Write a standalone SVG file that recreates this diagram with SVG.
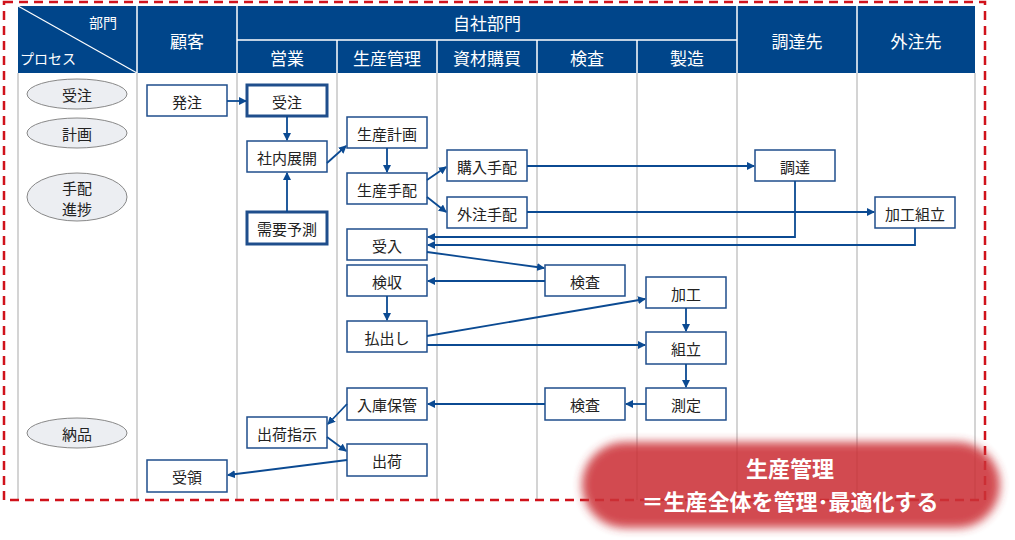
<svg xmlns="http://www.w3.org/2000/svg" width="1015" height="540" viewBox="0 0 1015 540">
<style>
text{font-family:"Noto Sans CJK JP","Noto Sans",sans-serif;text-anchor:middle;dominant-baseline:central}
.h{fill:#fff;font-size:17px}
.b rect{fill:#fff;stroke:#1f4e8c;stroke-width:1.5}
.b.t rect{stroke-width:3}
.b text{font-size:15px;fill:#222}
.e ellipse{fill:#eceef2;stroke:#888;stroke-width:1}
.e text{font-size:15px;fill:#222}
.g{stroke:#b8b8b8;stroke-width:1.2}
#conn path{fill:none;stroke:#0b4a92;stroke-width:1.8;marker-end:url(#ar)}
</style>
<defs>
<marker id="ar" markerWidth="8" markerHeight="8" refX="7" refY="4" orient="auto" markerUnits="userSpaceOnUse"><path d="M0,0L8,4L0,8z" fill="#0b4a92"/></marker>
<filter id="bl" x="-10%" y="-30%" width="120%" height="160%"><feGaussianBlur stdDeviation="5"/></filter>
</defs>
<rect width="1015" height="540" fill="#fff"/>
<g id="grid">
<rect x="18" y="6" width="957" height="67" fill="#00458a"/>
<line x1="18" y1="6" x2="137" y2="73" stroke="#fff" stroke-width="1.2"/>
<g stroke="#fff" stroke-width="1.5"><line x1="137" y1="6" x2="137" y2="73"/><line x1="237" y1="6" x2="237" y2="73"/><line x1="737" y1="6" x2="737" y2="73"/><line x1="857" y1="6" x2="857" y2="73"/><line x1="237" y1="40" x2="737" y2="40"/><line x1="337" y1="40" x2="337" y2="73"/><line x1="437" y1="40" x2="437" y2="73"/><line x1="537" y1="40" x2="537" y2="73"/><line x1="637" y1="40" x2="637" y2="73"/></g>
<g class="g"><line x1="18" y1="73" x2="18" y2="500"/><line x1="137" y1="73" x2="137" y2="500"/><line x1="237" y1="73" x2="237" y2="500"/><line x1="337" y1="73" x2="337" y2="500"/><line x1="437" y1="73" x2="437" y2="500"/><line x1="537" y1="73" x2="537" y2="500"/><line x1="637" y1="73" x2="637" y2="500"/><line x1="737" y1="73" x2="737" y2="500"/><line x1="857" y1="73" x2="857" y2="500"/><line x1="975" y1="73" x2="975" y2="500"/></g>
<text class="h" x="103" y="22" style="font-size:14px">部門</text>
<text class="h" x="48" y="58" style="font-size:14px">プロセス</text>
<text class="h" x="187" y="40">顧客</text>
<text class="h" x="487" y="22">自社部門</text>
<text class="h" x="287" y="57">営業</text>
<text class="h" x="387" y="57">生産管理</text>
<text class="h" x="487" y="57">資材購買</text>
<text class="h" x="587" y="57">検査</text>
<text class="h" x="687" y="57">製造</text>
<text class="h" x="797" y="40">調達先</text>
<text class="h" x="916" y="40">外注先</text>
</g>
<g id="p1" class="e"><ellipse cx="77" cy="94" rx="50" ry="15"/><text x="77" y="94">受注</text></g>
<g id="p2" class="e"><ellipse cx="77" cy="133" rx="50" ry="15"/><text x="77" y="133">計画</text></g>
<g id="p3" class="e"><ellipse cx="77" cy="197" rx="50" ry="24"/><text x="77" y="187">手配</text><text x="77" y="208">進捗</text></g>
<g id="p4" class="e"><ellipse cx="77" cy="433" rx="50" ry="15"/><text x="77" y="433">納品</text></g>
<g id="n1" class="b"><rect x="147" y="85" width="80" height="31"/><text x="187" y="101">発注</text></g>
<g id="n2" class="b t"><rect x="247" y="85" width="80" height="31"/><text x="287" y="101">受注</text></g>
<g id="n3" class="b"><rect x="247" y="141" width="80" height="31"/><text x="287" y="157">社内展開</text></g>
<g id="n4" class="b t"><rect x="247" y="212" width="80" height="32"/><text x="287" y="228">需要予測</text></g>
<g id="n5" class="b"><rect x="347" y="117" width="80" height="31"/><text x="387" y="133">生産計画</text></g>
<g id="n6" class="b"><rect x="347" y="173" width="80" height="31"/><text x="387" y="189">生産手配</text></g>
<g id="n7" class="b"><rect x="447" y="150" width="80" height="31"/><text x="487" y="166">購入手配</text></g>
<g id="n8" class="b"><rect x="447" y="197" width="80" height="31"/><text x="487" y="213">外注手配</text></g>
<g id="n9" class="b"><rect x="755" y="150" width="80" height="31"/><text x="795" y="166">調達</text></g>
<g id="n10" class="b"><rect x="875" y="197" width="80" height="31"/><text x="915" y="213">加工組立</text></g>
<g id="n11" class="b"><rect x="347" y="229" width="80" height="31"/><text x="387" y="245">受入</text></g>
<g id="n12" class="b"><rect x="347" y="265" width="80" height="31"/><text x="387" y="281">検収</text></g>
<g id="n13" class="b"><rect x="545" y="265" width="80" height="31"/><text x="585" y="281">検査</text></g>
<g id="n14" class="b"><rect x="646" y="277" width="80" height="31"/><text x="686" y="293">加工</text></g>
<g id="n15" class="b"><rect x="347" y="321" width="80" height="31"/><text x="387" y="337">払出し</text></g>
<g id="n16" class="b"><rect x="646" y="332" width="80" height="32"/><text x="686" y="348">組立</text></g>
<g id="n17" class="b"><rect x="646" y="388" width="80" height="32"/><text x="686" y="404">測定</text></g>
<g id="n18" class="b"><rect x="545" y="388" width="80" height="32"/><text x="585" y="404">検査</text></g>
<g id="n19" class="b"><rect x="347" y="388" width="80" height="32"/><text x="387" y="404">入庫保管</text></g>
<g id="n20" class="b"><rect x="247" y="417" width="80" height="31"/><text x="287" y="433">出荷指示</text></g>
<g id="n21" class="b"><rect x="347" y="444" width="80" height="32"/><text x="387" y="460">出荷</text></g>
<g id="n22" class="b"><rect x="147" y="460" width="80" height="32"/><text x="187" y="476">受領</text></g>
<g id="conn">
<path d="M227,101H246"/>
<path d="M287,116V140"/>
<path d="M287,212V173"/>
<path d="M327,163L346,146"/>
<path d="M387,148V172"/>
<path d="M427,180L446,167"/>
<path d="M427,197L446,212"/>
<path d="M527,166H754"/>
<path d="M527,212H874"/>
<path d="M795,181V237H428"/>
<path d="M915,228V245H428"/>
<path d="M427,252L544,268"/>
<path d="M545,281H428"/>
<path d="M387,296V320"/>
<path d="M427,336L645,299"/>
<path d="M427,345H645"/>
<path d="M686,308V331"/>
<path d="M686,364V387"/>
<path d="M646,404H626"/>
<path d="M545,404H428"/>
<path d="M347,404L328,424"/>
<path d="M327,437L346,451"/>
<path d="M347,460L228,475"/>
</g>
<rect x="4" y="2" width="981" height="498" fill="none" stroke="#d0121b" stroke-width="2.5" stroke-dasharray="9,6"/>
<g id="note">
<rect x="582" y="442" width="418" height="86" rx="43" fill="#cc3338" opacity="0.88" filter="url(#bl)"/>
<text x="790" y="467" style="font-size:22px;font-weight:bold;fill:#fff">生産管理</text>
<text x="790" y="500" style="font-size:22px;font-weight:bold;fill:#fff">＝生産全体を管理･最適化する</text>
</g>
</svg>
